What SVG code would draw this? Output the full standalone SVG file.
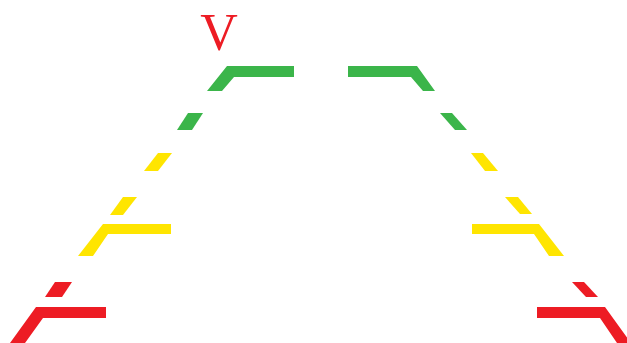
<svg xmlns="http://www.w3.org/2000/svg" width="627" height="343" viewBox="0 0 627 343">
<style>
.g{fill:#3bb54a}
.y{fill:#ffe500}
.r{fill:#ed1c24}
.lbl{font-family:"Liberation Serif","Times New Roman",serif;font-size:52px;fill:#ed1c24;text-anchor:middle}
</style>
<rect width="627" height="343" fill="#ffffff"/>
<g id="label-v"><text class="lbl" x="219" y="50">V</text></g>
<g id="left-line">
<polygon class="g" points="227,66 294,66 294,77 234,77 222,91 207,91"/>
<polygon class="g" points="188,113 203,113 192,130 177,130"/>
<polygon class="y" points="158,153 172,153 158,171 144,171"/>
<polygon class="y" points="123,197 137,197 123,215 110,215"/>
<polygon class="y" points="103,224 171,224 171,234 108,234 93,256 78,256"/>
<polygon class="r" points="55,282 72,282 62,297 45,297"/>
<polygon class="r" points="36,307 106,307 106,318 43,318 25,343 10,343"/>
</g>
<g id="right-line">
<polygon class="g" points="348,66 417,66 435,91 423,91 411,77 348,77"/>
<polygon class="g" points="440,113 452,113 467,130 455,130"/>
<polygon class="y" points="471,153 483,153 498,171 485,171"/>
<polygon class="y" points="505,197 518,197 532,214 520,214"/>
<polygon class="y" points="472,224 539,224 564,256 549,256 534,234 472,234"/>
<polygon class="r" points="572,282 584,282 598,297 586,297"/>
<polygon class="r" points="537,307 605,307 631,343 617,343 600,318 537,318"/>
</g>
</svg>
